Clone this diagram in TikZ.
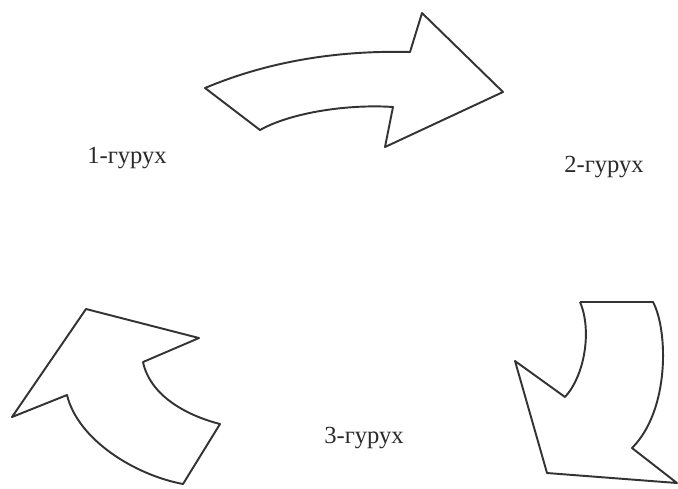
\documentclass[tikz,border=0pt]{standalone}
\usepackage{fontspec}
\setmainfont{Liberation Serif}
\usetikzlibrary{positioning}
\definecolor{inkline}{HTML}{333333}
\definecolor{inktext}{HTML}{2A2A2A}
\tikzset{
  blockarrow/.style={draw=inkline, line width=1.1pt, line join=round, fill=white},
  grplabel/.style={text=inktext, font=\fontsize{14}{17}\selectfont, inner sep=0pt}
}

\begin{document}
\begin{tikzpicture}[x=0.02cm, y=-0.02cm]
  \useasboundingbox (0,0) rectangle (678,488);
  % top arrow, 1 -> 2
  \draw[blockarrow] (205,88) .. controls (262,64) and (330,50) .. (410,52)
    -- (422,13) -- (503,92) -- (385,147) -- (393,107)
    .. controls (350,104) and (292,112) .. (260,130) -- cycle;
  % right arrow, 2 -> 3
  \draw[blockarrow] (580,302) -- (653,302)
    .. controls (668,330) and (670,410) .. (632,448)
    -- (677,483) -- (547,473) -- (515,361) -- (565,397)
    .. controls (585,375) and (592,330) .. (580,302);
  % left arrow, 3 -> 1
  \draw[blockarrow] (86,309) -- (199,338) -- (143,362)
    .. controls (150,395) and (185,415) .. (220,424)
    -- (183,484) .. controls (135,475) and (78,440) .. (67,395)
    -- (12,417) -- cycle;

  \node[grplabel] (grp1) at (127,158) {1-гурух};
  \node[grplabel] (grp2) at (604,167) {2-гурух};
  \node[grplabel] (grp3) at (364,438) {3-гурух};
\end{tikzpicture}
\end{document}
